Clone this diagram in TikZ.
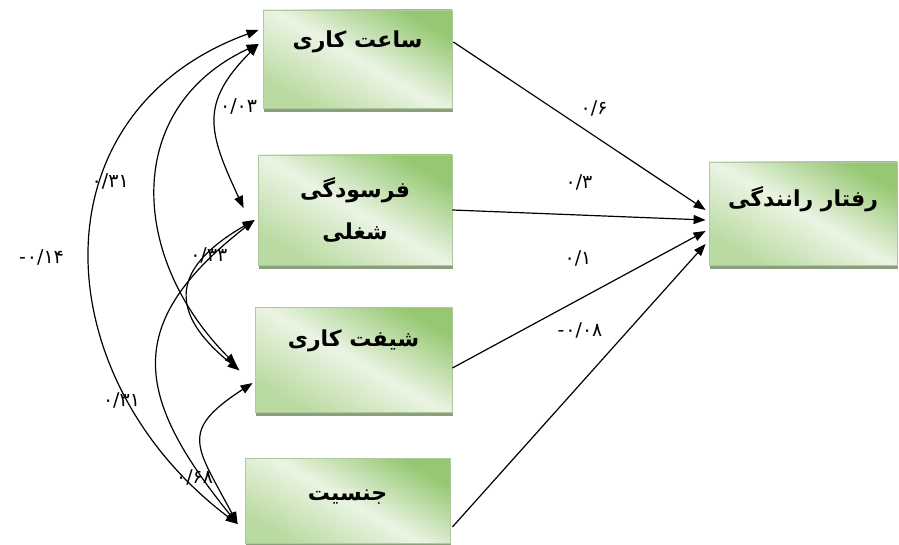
\documentclass[tikz,border=0pt]{standalone}
\usepackage{fontspec}
\newfontfamily\farsi[Script=Arabic]{DejaVu Sans}
\TeXXeTstate=1
\usetikzlibrary{arrows.meta,calc,shadows}

\definecolor{boxgreen}{RGB}{150,200,115}
\definecolor{boxlight}{RGB}{235,244,228}
\definecolor{boxlow}{RGB}{185,218,160}
\definecolor{boxedge}{RGB}{175,200,160}
\definecolor{boxshadow}{RGB}{125,150,110}

\tikzset{
  var/.style={draw=boxedge, line width=0.8pt,
    top color=boxgreen, bottom color=boxlow, middle color=boxlight,
    shading angle=-30,
    drop shadow={shadow xshift=1pt, shadow yshift=-4pt, fill=boxshadow, opacity=0.9},
    font=\farsi\bfseries\fontsize{22}{42}\selectfont, align=center, inner sep=0pt},
  coef/.style={font=\farsi\fontsize{19}{22}\selectfont, inner sep=1pt},
  link/.style={line width=1.2pt}
}

\begin{document}
\begin{tikzpicture}[x=1pt, y=1pt, >={Triangle[length=12pt,width=9pt]}]

    \useasboundingbox (0,0) rectangle (899,-545);

    \node[var, minimum width=189pt, minimum height=98pt, text depth=40pt] (hours) at (357.5,-59) {\beginR ساعت کاری\endR};
    \node[var, minimum width=194pt, minimum height=110pt] (burnout) at (355,-210) {\beginR فرسودگی\endR\\\beginR شغلی\endR};
    \node[var, minimum width=197pt, minimum height=105pt, text depth=42pt] (shift) at (353.5,-359.5) {\beginR شیفت کاری\endR};
    \node[var, minimum width=205pt, minimum height=85pt, text depth=10pt] (gender) at (347.5,-500.5) {\beginR جنسیت\endR};
    \node[var, minimum width=188pt, minimum height=103pt, text depth=34pt] (driving) at (803,-213.5) {\beginR رفتار رانندگی\endR};

    % paths to driving behaviour
    \draw [->, link] ($(hours.east)+(1,17)$) to node[coef, pos=0.55, xshift=2pt, yshift=26pt] {۰/۶} ($(driving.west)+(-3,3.5)$);
    \draw [->, link] (burnout.east) to node[coef, pos=0.5, yshift=33pt] {۰/۳} ($(driving.west)+(-3,-6.5)$);
    \draw [->, link] ($(shift.east)+(0,-8.5)$) to node[coef, pos=0.5, xshift=-1pt, yshift=41pt] {۰/۱} ($(driving.west)+(-3,-17.5)$);
    \draw [->, link] ($(gender.east)+(2,-26.5)$) to node[coef, pos=0.5, xshift=1pt, yshift=55pt] {-\kern1pt۰/۰۸} ($(driving.west)+(-3,-30.5)$);

    % correlations
    \draw [<->, link] ($(hours.west)+(-4,15)$) to[out=225, in=115, looseness=1.3] node[coef, xshift=23pt, yshift=13pt] {۰/۰۳} ($(burnout.west)+(-14,2)$);
    \draw [<->, link] ($(hours.west)+(-4,15)$) to[out=205, in=135, looseness=1.2] node[coef, xshift=-46pt, yshift=7pt] {۰/۳۱} ($(shift.west)+(-18,-6)$);
    \draw [<->, link] ($(hours.west)+(-4,29)$) to[out=200, in=143, looseness=1.25] node[coef, xshift=-49pt, yshift=-4pt] {-\kern1pt۰/۱۴} ($(gender.west)+(-7,-23.5)$);
    \draw [<->, link] ($(burnout.west)+(-3,-10)$) to[out=210, in=141, looseness=1.6] node[coef, xshift=20pt, yshift=35pt] {۰/۳۳} ($(shift.west)+(-15,-11)$);
    \draw [<->, link] ($(burnout.west)+(-3,-10)$) to[out=218, in=129, looseness=1.4] node[coef, xshift=-36pt, yshift=-39pt] {۰/۳۱} ($(gender.west)+(-7,-23.5)$);
    \draw [<->, link] ($(shift.west)+(-2,-23.5)$) to[out=213, in=118, looseness=1.6] node[coef, xshift=-7pt, yshift=-35pt] {۰/۶۸} ($(gender.west)+(-7,-23.5)$);

\end{tikzpicture}
\end{document}
